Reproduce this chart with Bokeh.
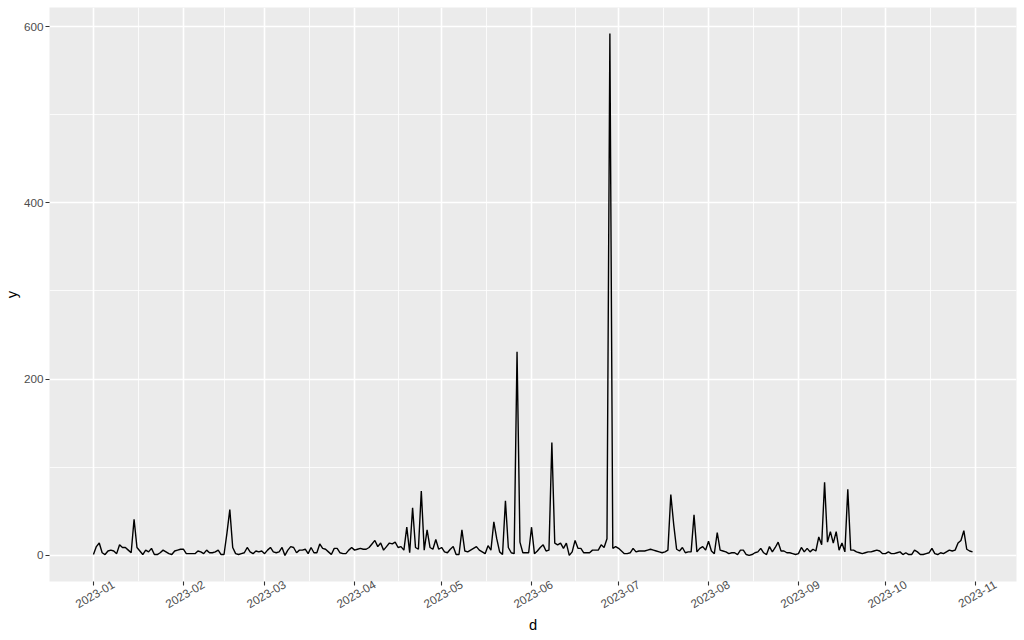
import math
import pandas as pd
from bokeh.plotting import figure
from bokeh.models import FixedTicker, Range1d
from bokeh.embed import file_html
from bokeh.resources import INLINE

start_date = "2023-01-01"

jan = [1, 10, 14, 3, 1, 5, 6, 5, 2, 12, 9, 9, 6, 3, 41, 9, 5, 1, 6, 4, 8, 1, 1, 3, 6, 4, 2, 1, 5, 6, 7]
feb = [7, 2, 2, 2, 2, 5, 4, 2, 6, 3, 3, 4, 6, 1, 1, 25, 52, 9, 2, 1, 2, 3, 9, 4, 2, 5, 4, 5]
mar = [2, 6, 9, 4, 3, 4, 9, 0, 6, 10, 9, 3, 6, 6, 7, 2, 9, 3, 3, 13, 8, 7, 4, 1, 8, 8, 3, 2, 2, 6, 9]
apr = [6, 7, 8, 7, 7, 9, 13, 17, 10, 14, 6, 10, 14, 13, 15, 9, 10, 6, 32, 3, 54, 9, 7, 73, 6, 29, 9, 7, 18, 7]
may = [9, 4, 3, 7, 10, 1, 1, 29, 5, 4, 6, 8, 10, 6, 4, 2, 11, 6, 38, 19, 4, 1, 62, 9, 3, 2, 231, 15, 3, 3, 3]
jun = [32, 2, 5, 9, 12, 5, 6, 128, 14, 12, 14, 8, 14, 0, 4, 17, 8, 8, 3, 3, 3, 6, 6, 6, 12, 9, 19, 592, 8, 10]
jul = [8, 5, 2, 2, 3, 8, 4, 5, 5, 5, 6, 7, 6, 5, 4, 3, 4, 6, 69, 35, 7, 5, 9, 3, 4, 4, 46, 4, 8, 10, 6]
aug = [16, 5, 2, 26, 6, 5, 4, 2, 3, 3, 1, 6, 6, 1, 0, 1, 3, 4, 8, 3, 1, 10, 4, 9, 15, 5, 5, 3, 3, 2, 1]
sep = [2, 9, 4, 8, 4, 7, 5, 21, 12, 83, 15, 27, 14, 27, 6, 14, 4, 75, 6, 6, 4, 3, 2, 3, 4, 4, 5, 6, 5, 2]
oct_ = [2, 4, 2, 2, 3, 4, 1, 3, 1, 1, 6, 4, 1, 1, 2, 3, 8, 2, 1, 3, 2, 4, 6, 5, 6, 14, 17, 28, 7, 5, 4]

tick_labels = ["2023-01", "2023-02", "2023-03", "2023-04", "2023-05", "2023-06",
               "2023-07", "2023-08", "2023-09", "2023-10", "2023-11"]
y_ticks = [0, 200, 400, 600]

values = jan + feb + mar + apr + may + jun + jul + aug + sep + oct_
dates = pd.date_range(start_date, periods=len(values), freq="D")
EPOCH = pd.Timestamp("1970-01-01")
DAY_MS = 86400000.0
x_ms = [(d - EPOCH).total_seconds() * 1000.0 for d in dates]

major = [(pd.Timestamp(t + "-01") - EPOCH).total_seconds() * 1000.0 for t in tick_labels]
minor_x = [(a + b) / 2.0 for a, b in zip(major[:-1], major[1:])]
minor_y = [(a + b) / 2.0 for a, b in zip(y_ticks[:-1], y_ticks[1:])]

xspan = max(x_ms) - min(x_ms)
yspan = max(values) - min(values)
x_range = Range1d(min(x_ms) - 0.05 * xspan, max(x_ms) + 0.05 * xspan)
y_range = Range1d(min(values) - 0.05 * yspan, max(values) + 0.05 * yspan)

p = figure(width=1024, height=640, output_backend="svg", toolbar_location=None,
           x_range=x_range, y_range=y_range,
           background_fill_color="#EBEBEB", border_fill_color="white",
           min_border_left=48, min_border_right=8, min_border_top=7, min_border_bottom=59)
p.outline_line_color = None

p.line(x_ms, values, line_color="black", line_width=1.4)

# grid: majors at month starts, minors half-way between
p.xgrid.ticker = FixedTicker(ticks=major, minor_ticks=minor_x)
yt = FixedTicker(ticks=y_ticks, minor_ticks=minor_y)
p.yaxis.ticker = yt
p.ygrid.ticker = yt

# x axis: tick marks at month starts (drawn as "minor" marks), rotated labels
# centred under each mark the way ggplot places angle=30 text
label_shift_ms = 7.0 * DAY_MS
label_pos = [m + label_shift_ms for m in major]
p.xaxis.ticker = FixedTicker(ticks=label_pos, minor_ticks=major)
p.xaxis.major_label_overrides = {lp: lab for lp, lab in zip(label_pos, tick_labels)}
p.xaxis.major_label_orientation = math.pi / 6
p.xaxis.major_tick_line_color = None
p.xaxis.minor_tick_line_color = "#333333"
p.xaxis.minor_tick_line_width = 1.1
p.xaxis.minor_tick_out = 4
p.xaxis.minor_tick_in = 0

for g in (p.xgrid, p.ygrid):
    g.grid_line_color = "white"
    g.grid_line_width = 1.6
    g.minor_grid_line_color = "white"
    g.minor_grid_line_width = 0.8

for ax in (p.xaxis, p.yaxis):
    ax.axis_line_color = None
    ax.major_tick_out = 4
    ax.major_tick_in = 0
    ax.major_label_text_font = "Liberation Sans"
    ax.major_label_text_font_size = "11.7px"
    ax.major_label_text_color = "#4D4D4D"
    ax.axis_label_text_font = "Liberation Sans"
    ax.axis_label_text_font_size = "14.7px"
    ax.axis_label_text_font_style = "normal"
    ax.axis_label_text_color = "black"

p.yaxis.major_tick_line_color = "#333333"
p.yaxis.major_tick_line_width = 1.1
p.yaxis.minor_tick_line_color = None
p.yaxis.major_label_standoff = 2
p.yaxis.axis_label = "y"
p.yaxis.axis_label_standoff = 1

p.xaxis.major_label_standoff = -2
p.xaxis.axis_label = "d"
p.xaxis.axis_label_standoff = 2

open("out.html", "w").write(file_html(p, INLINE))
